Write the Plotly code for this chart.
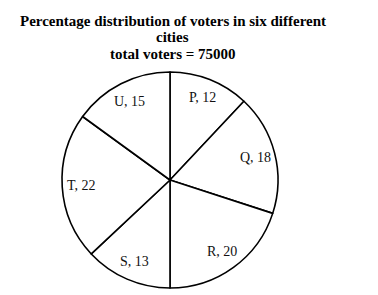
import math
import plotly.graph_objects as go

cities = ["P", "Q", "R", "S", "T", "U"]
shares = [12, 18, 20, 13, 22, 15]
title_lines = ["Percentage distribution of voters in six different", "cities", "total voters = 75000"]

W, H = 378, 295
cx, cy, R = 170, 180, 108
label_r = 0.82

fig = go.Figure(go.Pie(
    labels=cities, values=shares, sort=False, direction="clockwise", rotation=0,
    textinfo="none", hoverinfo="label+value",
    marker=dict(colors=["white"] * len(cities), line=dict(color="black", width=1.6)),
    domain=dict(x=[(cx - R) / W, (cx + R) / W], y=[1 - (cy + R) / H, 1 - (cy - R) / H]),
    showlegend=False,
))

total = sum(shares)
cum = 0
annotations = []
for c, v in zip(cities, shares):
    mid = (cum + v / 2) / total * 2 * math.pi
    cum += v
    px = cx + label_r * R * math.sin(mid)
    py = cy - label_r * R * math.cos(mid)
    annotations.append(dict(x=px / W, y=1 - py / H, xref="paper", yref="paper",
                            xanchor="center", yanchor="middle",
                            text=f"{c}, {v}", showarrow=False,
                            font=dict(family="Liberation Serif", size=14, color="#111")))

title_y = [20.5, 37, 53.5]
for line, ty in zip(title_lines, title_y):
    annotations.append(dict(x=172.5 / W, y=1 - ty / H, xref="paper", yref="paper",
                            xanchor="center", yanchor="middle",
                            text="<b>" + line + "</b>", showarrow=False,
                            font=dict(family="Liberation Serif", size=15, color="#000")))

fig.update_layout(width=W, height=H, margin=dict(l=0, r=0, t=0, b=0),
                  paper_bgcolor="white", plot_bgcolor="white", annotations=annotations)
fig.write_html("out.html")
